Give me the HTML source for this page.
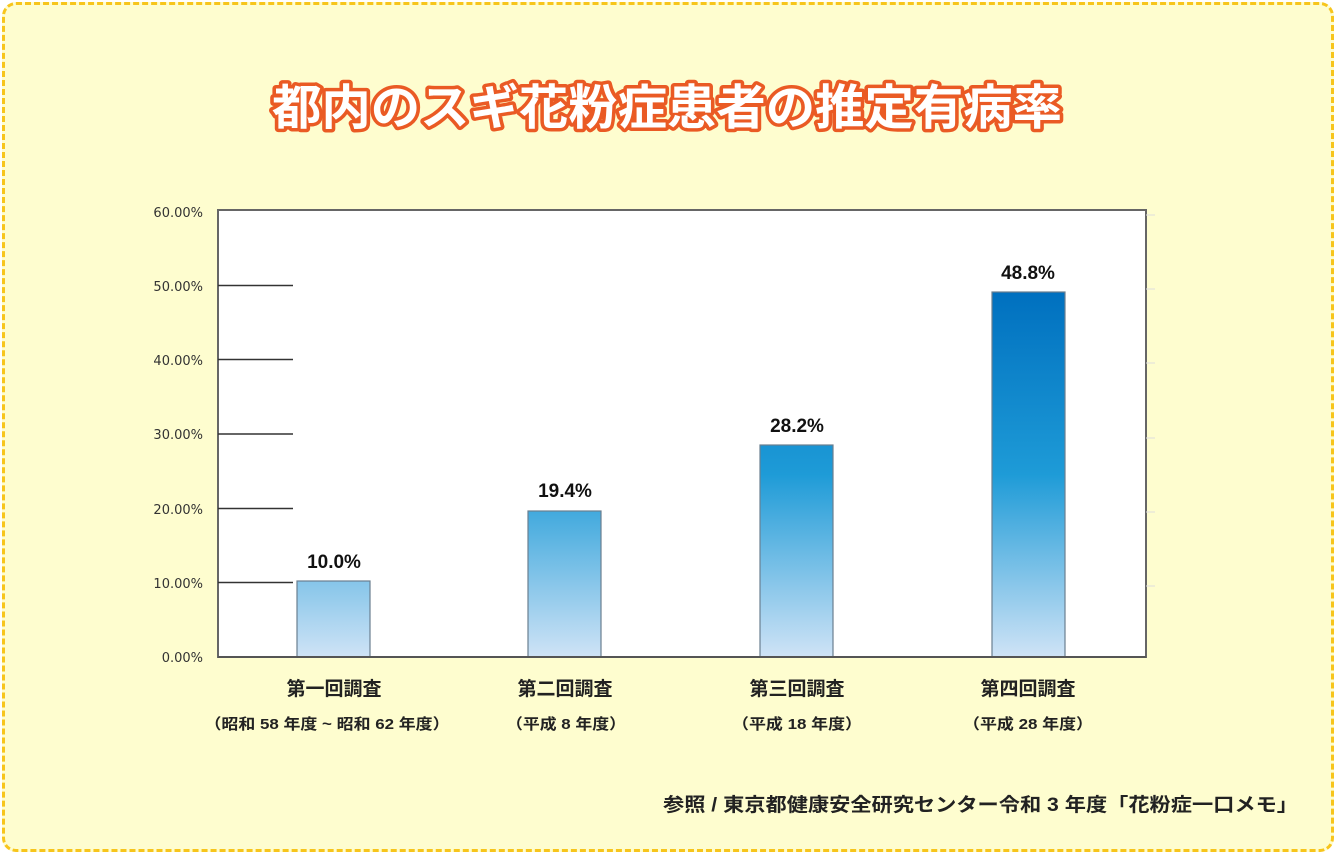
<!DOCTYPE html>
<html><head><meta charset="utf-8"><style>
html,body{margin:0;padding:0;}
body{width:1340px;height:858px;background:#fff;position:relative;overflow:hidden;font-family:"Liberation Sans","Noto Sans CJK JP",sans-serif;}
.frame{position:absolute;left:2px;top:2px;width:1332px;height:850px;background:#fefdcf;border:3px dashed #f7c51c;border-radius:14px;box-sizing:border-box;}
</style></head><body>
<div class="frame"></div>
<svg width="1340" height="858" style="position:absolute;left:0;top:0" font-family="Liberation Sans, Noto Sans CJK JP, sans-serif">
<defs>
<linearGradient id="g" gradientUnits="userSpaceOnUse" x1="0" y1="292" x2="0" y2="657">
<stop offset="0" stop-color="#0070bf"/>
<stop offset="0.5" stop-color="#1e9bd7"/>
<stop offset="1" stop-color="#cfe3f6"/>
</linearGradient>
</defs>
<text x="667" y="124" text-anchor="middle" font-size="48" font-weight="bold" fill="#fff" stroke="#ea5a24" stroke-width="7" stroke-linejoin="round" paint-order="stroke" font-family="Noto Sans CJK JP, sans-serif" textLength="790" lengthAdjust="spacingAndGlyphs">都内のスギ花粉症患者の推定有病率</text>
<rect x="218" y="210" width="928" height="447" fill="#fff" stroke="#666" stroke-width="2"/>
<g stroke="#333" stroke-width="1.5">
<line x1="218" y1="285.5" x2="293" y2="285.5"/>
<line x1="218" y1="359.5" x2="293" y2="359.5"/>
<line x1="218" y1="434" x2="293" y2="434"/>
<line x1="218" y1="508.5" x2="293" y2="508.5"/>
<line x1="218" y1="582.5" x2="293" y2="582.5"/>
</g>
<g stroke="#ddd" stroke-width="1">
<line x1="1146" y1="215" x2="1155" y2="215"/>
<line x1="1146" y1="289" x2="1155" y2="289"/>
<line x1="1146" y1="363" x2="1155" y2="363"/>
<line x1="1146" y1="438" x2="1155" y2="438"/>
<line x1="1146" y1="512" x2="1155" y2="512"/>
<line x1="1146" y1="586" x2="1155" y2="586"/>
</g>
<g font-size="13" fill="#333" text-anchor="end" font-family="DejaVu Sans, sans-serif">
<text x="203" y="217">60.00%</text>
<text x="203" y="291">50.00%</text>
<text x="203" y="365">40.00%</text>
<text x="203" y="439">30.00%</text>
<text x="203" y="514">20.00%</text>
<text x="203" y="588">10.00%</text>
<text x="203" y="662">0.00%</text>
</g>
<g fill="url(#g)" stroke="#6a7f90" stroke-width="1.2">
<rect x="297" y="581" width="73" height="76"/>
<rect x="528" y="511" width="73" height="146"/>
<rect x="760" y="445" width="73" height="212"/>
<rect x="992" y="292" width="73" height="365"/>
</g>
<line x1="218" y1="657" x2="1146" y2="657" stroke="#555" stroke-width="2"/>
<g font-size="19" font-weight="bold" fill="#111" text-anchor="middle">
<text x="334" y="568">10.0%</text>
<text x="565" y="497">19.4%</text>
<text x="797" y="432">28.2%</text>
<text x="1028" y="279">48.8%</text>
</g>
<g font-size="19" font-weight="bold" fill="#222" text-anchor="middle">
<text x="334" y="695">第一回調査</text>
<text x="565" y="695">第二回調査</text>
<text x="797" y="695">第三回調査</text>
<text x="1028" y="695">第四回調査</text>
</g>
<g font-size="15" font-weight="bold" fill="#222" text-anchor="middle">
<text x="327" y="729" textLength="245" lengthAdjust="spacingAndGlyphs">（昭和 58 年度 ~ 昭和 62 年度）</text>
<text x="566" y="729" textLength="120" lengthAdjust="spacingAndGlyphs">（平成 8 年度）</text>
<text x="797" y="729" textLength="130" lengthAdjust="spacingAndGlyphs">（平成 18 年度）</text>
<text x="1028" y="729" textLength="130" lengthAdjust="spacingAndGlyphs">（平成 28 年度）</text>
</g>
<text x="1298" y="811" text-anchor="end" font-size="19" font-weight="bold" fill="#222" textLength="635" lengthAdjust="spacingAndGlyphs">参照 / 東京都健康安全研究センター令和 3 年度「花粉症一口メモ」</text>
</svg>
</body></html>
